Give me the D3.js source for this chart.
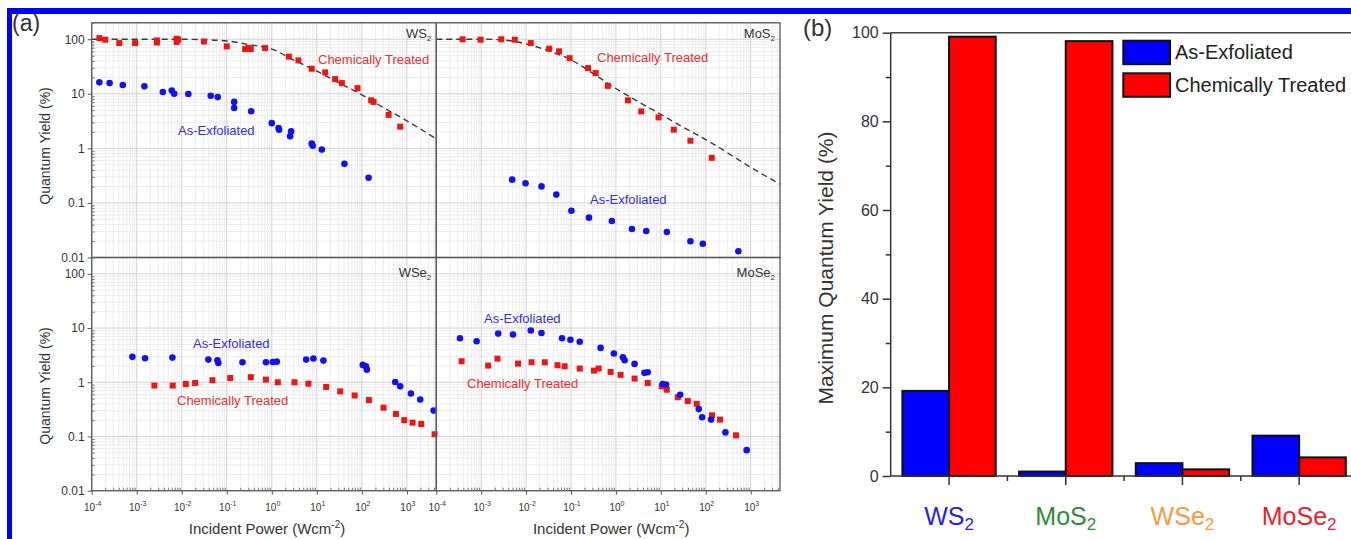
<!DOCTYPE html>
<html><head><meta charset="utf-8">
<script src="https://cdn.jsdelivr.net/npm/d3@7"></script>
<style>
html,body{margin:0;padding:0;background:#fff;overflow:hidden;}
svg{display:block;font-family:"Liberation Sans",Arial,Helvetica,sans-serif;}
</style></head><body>
<svg id="chart" width="1351" height="539"></svg>
<script>
// ---------- DATA (panel a: [incident power W/cm2, quantum yield %]) ----------
const ws2_treated = [[1.48e-4,105],[2.0e-4,98],[4.1e-4,85],[9.2e-4,85],[2.8e-3,87],[2.8e-3,95],[7.7e-3,102],[7.7e-3,89],[8.4e-3,98],[0.031,91],[0.1,74],[0.255,66],[0.303,69],[0.341,66],[0.71,69],[2.39,48],[3.9,41],[7.7,28.8],[15.3,24.7],[25.5,18.6],[36,15.7],[80,12.7],[161,7.6],[182,7.1],[392,4.1],[711,2.5]];
const ws2_exfoliated = [[1.48e-4,16.2],[2.5e-4,15.7],[4.9e-4,14.5],[1.48e-3,13.7],[3.8e-3,10.8],[6.0e-3,11.5],[6.8e-3,10.0],[0.014,9.9],[0.044,9.2],[0.063,8.7],[0.146,7.1],[0.146,5.5],[0.348,4.8],[1.0,2.9],[1.41,2.36],[1.45,2.2],[2.69,2.05],[2.55,1.66],[7.7,1.22],[8.1,1.12],[12.9,0.95],[41,0.52],[141,0.29]];
const ws2_fit = [[1e-4,100],[1e-2,100],[0.03,98],[0.1,93],[0.3,80],[1,66],[3,42],[10,26],[30,16],[100,9.6],[300,5.6],[1000,3.2],[4500,1.49]];

const mos2_treated = [[3.85e-4,100],[9.7e-4,98],[2.8e-3,100],[5.6e-3,98],[0.0127,85],[0.0325,67],[0.054,60],[0.093,45],[0.239,29.6],[0.353,24],[0.66,14],[1.85,7.6],[3.66,4.76],[8.9,3.7],[19.4,2.2],[45.6,1.38],[136,0.67]];
const mos2_exfoliated = [[4.9e-3,0.267],[9.7e-3,0.229],[0.022,0.201],[0.047,0.142],[0.102,0.072],[0.251,0.0537],[0.81,0.0467],[2.27,0.0333],[4.72,0.0306],[13.6,0.0294],[45.6,0.0198],[86,0.0179],[532,0.013]];
const mos2_fit = [[1e-4,100],[1e-3,100],[3e-3,97],[0.01,82],[0.03,62],[0.1,42],[0.3,24],[1,12.5],[3,7.3],[10,4.2],[30,2.5],[100,1.45],[1000,0.45],[4500,0.22]];

const wse2_exfoliated = [[8.0e-4,2.94],[1.53e-3,2.77],[6.2e-3,2.85],[0.039,2.62],[0.062,2.55],[0.065,2.27],[0.223,2.34],[0.74,2.34],[1.05,2.37],[1.29,2.4],[5.8,2.62],[8.4,2.74],[14,2.51],[105,2.09],[123,1.97],[129,1.71],[551,1.01],[711,0.84],[1228,0.62],[1977,0.48],[3917,0.30]];
const wse2_treated = [[2.47e-3,0.87],[6.3e-3,0.87],[0.0123,0.93],[0.0198,0.97],[0.048,1.09],[0.119,1.2],[0.341,1.24],[0.74,1.12],[1.36,1.0],[3.19,1.0],[6.5,0.94],[16.1,0.82],[33,0.68],[69,0.57],[143,0.47],[303,0.34],[570,0.26],[873,0.2],[1337,0.18],[2083,0.17],[4120,0.11]];

const mose2_exfoliated = [[3.36e-4,6.5],[7.9e-4,5.7],[2.39e-3,7.9],[5.1e-3,7.6],[0.0127,9.0],[0.022,8.1],[0.063,6.5],[0.097,6.1],[0.156,5.6],[0.456,4.3],[0.9,3.4],[1.43,2.9],[1.56,2.55],[2.6,2.18],[4.3,1.49],[5.1,1.53],[11,0.93],[13.1,0.91],[27,0.59],[70,0.32],[83,0.226],[131,0.205],[274,0.119],[815,0.056]];
const mose2_treated = [[3.66e-4,2.44],[1.43e-3,2.03],[2.3e-3,2.73],[6.6e-3,2.21],[0.0132,2.34],[0.026,2.34],[0.05,2.06],[0.072,1.97],[0.156,1.79],[0.324,1.64],[0.412,1.79],[0.76,1.55],[1.27,1.37],[2.6,1.17],[5.1,0.97],[10.5,0.84],[13.6,0.73],[23.9,0.53],[39.8,0.45],[63,0.40],[138,0.246],[208,0.205],[472,0.105]];

const xTickExponents = [-4,-3,-2,-1,0,1,2,3];
const yTickValues = [0.01,0.1,1,10,100];
const yTickLabels = ["0.01","0.1","1","10","100"];

// ---------- DATA (panel b) ----------
const materials = ["WS2","MoS2","WSe2","MoSe2"];
const materialBase = ["WS","MoS","WSe","MoSe"];
const materialColors = ["#2323e0","#2e8b3c","#f59a3e","#e8242a"];
const maxQY_exfoliated = [19.2, 1.0, 2.9, 9.1];
const maxQY_treated = [99.1, 98.1, 1.5, 4.2];
const barTicks = [0,20,40,60,80,100];
const barMinorTicks = [10,30,50,70,90];
const seriesNames = ["As-Exfoliated","Chemically Treated"];

// ---------- DRAW ----------
const svg = d3.select("#chart");
const BLUE_M = "#1212ee", RED_M = "#ee1515";
const TXT = "#333";

// blue frame
svg.append("rect").attr("x",7).attr("y",8).attr("width",1344).attr("height",6).attr("fill","#0000ff");
svg.append("rect").attr("x",7).attr("y",8).attr("width",5).attr("height",531).attr("fill","#0000ff");

const xDom = [1e-4, 4500], yDom = [0.01, 200];
const xL = d3.scaleLog().domain(xDom).range([91.7, 436.3]);
const xR = d3.scaleLog().domain(xDom).range([436.3, 780]);
const yT = d3.scaleLog().domain(yDom).range([257.5, 22.8]);
const yBt = d3.scaleLog().domain(yDom).range([490.7, 257.5]);

const minorX = [], majorX = [];
for (let e=-4;e<=3;e++){ majorX.push(Math.pow(10,e)); for(let k=2;k<=9;k++){const v=k*Math.pow(10,e); if(v<=xDom[1]) minorX.push(v);} }
const minorY = [], majorY = [];
for (let e=-2;e<=2;e++){ majorY.push(Math.pow(10,e)); for(let k=2;k<=9;k++){const v=k*Math.pow(10,e); if(v<=yDom[1]) minorY.push(v);} }

const panels = [
  {x:xL, y:yT, name:"WS", exf:ws2_exfoliated, trt:ws2_treated, fit:ws2_fit, nameY:38,
   exfLab:[178,135], trtLab:[318,64], left:true, bottom:false},
  {x:xR, y:yT, name:"MoS", exf:mos2_exfoliated, trt:mos2_treated, fit:mos2_fit, nameY:38,
   exfLab:[590,204], trtLab:[597,62], left:false, bottom:false},
  {x:xL, y:yBt, name:"WSe", exf:wse2_exfoliated, trt:wse2_treated, fit:null, nameY:277,
   exfLab:[193,348], trtLab:[177,405], left:true, bottom:true},
  {x:xR, y:yBt, name:"MoSe", exf:mose2_exfoliated, trt:mose2_treated, fit:null, nameY:277,
   exfLab:[484,323], trtLab:[467,388], left:false, bottom:true}
];

panels.forEach((p,i)=>{
  const [x0,x1] = p.x.range(), [y0,y1] = p.y.range(); // y0 bottom, y1 top
  const g = svg.append("g");
  // grid
  g.selectAll(".gmx").data(minorX).join("line").attr("x1",d=>p.x(d)).attr("x2",d=>p.x(d)).attr("y1",y1).attr("y2",y0).attr("stroke","#ececec").attr("stroke-width",1);
  g.selectAll(".gmy").data(minorY).join("line").attr("y1",d=>p.y(d)).attr("y2",d=>p.y(d)).attr("x1",x0).attr("x2",x1).attr("stroke","#ececec").attr("stroke-width",1);
  g.selectAll(".gMx").data(majorX).join("line").attr("x1",d=>p.x(d)).attr("x2",d=>p.x(d)).attr("y1",y1).attr("y2",y0).attr("stroke","#d2d2d2").attr("stroke-width",1);
  g.selectAll(".gMy").data(majorY).join("line").attr("y1",d=>p.y(d)).attr("y2",d=>p.y(d)).attr("x1",x0).attr("x2",x1).attr("stroke","#d2d2d2").attr("stroke-width",1);

  // fit line
  if (p.fit){
    const line = d3.line().x(d=>p.x(d[0])).y(d=>p.y(d[1])).curve(d3.curveMonotoneX);
    g.append("path").datum(p.fit).attr("d",line).attr("fill","none").attr("stroke","#3a3a3a").attr("stroke-width",1.4).attr("stroke-dasharray","6,4");
  }
  // markers
  g.selectAll(".sq").data(p.trt).join("rect").attr("x",d=>p.x(d[0])-3).attr("y",d=>p.y(d[1])-3).attr("width",6).attr("height",6).attr("fill",RED_M);
  g.selectAll(".ci").data(p.exf).join("circle").attr("cx",d=>p.x(d[0])).attr("cy",d=>p.y(d[1])).attr("r",3.3).attr("fill",BLUE_M);

  // frame
  g.append("rect").attr("x",x0).attr("y",y1).attr("width",x1-x0).attr("height",y0-y1).attr("fill","none").attr("stroke","#555").attr("stroke-width",1.3);

  // material name
  const t = g.append("text").attr("x",x1-5).attr("y",p.nameY).attr("text-anchor","end").attr("font-size",13).attr("fill",TXT);
  t.append("tspan").text(p.name);
  t.append("tspan").attr("font-size",8).attr("dy",3).text("2");

  // annotations
  g.append("text").attr("x",p.exfLab[0]).attr("y",p.exfLab[1]).attr("font-size",13).attr("fill","#3030d8").text(seriesNames[0]);
  g.append("text").attr("x",p.trtLab[0]).attr("y",p.trtLab[1]).attr("font-size",13).attr("fill","#e43232").text(seriesNames[1]);

  // y axis
  if (p.left){
    const ax = g.append("g").attr("transform",`translate(${x0},0)`)
      .call(d3.axisLeft(p.y).tickValues(yTickValues).tickSize(4).tickPadding(3).tickFormat((d,j)=>yTickLabels[j]));
    ax.select(".domain").remove();
    ax.selectAll("line").attr("stroke","#555");
    ax.selectAll("text").attr("font-size",12).attr("fill",TXT).attr("font-family","Liberation Sans, Arial, sans-serif");
    const axm = g.append("g").attr("transform",`translate(${x0},0)`)
      .call(d3.axisLeft(p.y).tickValues(minorY).tickSize(-3).tickFormat(""));
    axm.select(".domain").remove();
    axm.selectAll("line").attr("stroke","#777");
  }
  if (p.bottom){
    const ax = g.append("g").attr("transform",`translate(0,${y0})`)
      .call(d3.axisBottom(p.x).tickValues(majorX).tickSize(4).tickFormat(""));
    ax.select(".domain").remove();
    ax.selectAll("line").attr("stroke","#555");
    const axm = g.append("g").attr("transform",`translate(0,${y0})`)
      .call(d3.axisBottom(p.x).tickValues(minorX).tickSize(-3).tickFormat(""));
    axm.select(".domain").remove();
    axm.selectAll("line").attr("stroke","#777");
    xTickExponents.forEach(e=>{
      const tt = g.append("text").attr("x",p.x(Math.pow(10,e))+1).attr("y",511).attr("text-anchor","middle").attr("font-size",10).attr("fill",TXT);
      tt.append("tspan").text("10");
      tt.append("tspan").attr("font-size",7).attr("dy",-5).text(String(e));
    });
    const xt = g.append("text").attr("x",(x0+x1)/2+3).attr("y",534).attr("text-anchor","middle").attr("font-size",15).attr("fill",TXT);
    xt.append("tspan").text("Incident Power (Wcm");
    xt.append("tspan").attr("font-size",10).attr("dy",-6).text("-2");
    xt.append("tspan").attr("dy",6).text(")");
  }
});

// y titles panel a
[[50,146],[50,386]].forEach(([tx,ty])=>{
  svg.append("text").attr("transform",`translate(${tx},${ty}) rotate(-90)`).attr("text-anchor","middle").attr("font-size",14).attr("fill",TXT).text("Quantum Yield (%)");
});
svg.append("text").attr("x",12).attr("y",31).attr("font-size",23).attr("fill","#333").attr("font-weight",300).text("(a)");

// ---------- PANEL B ----------
const bx0 = 890.7, step = 116.7;
const xBand = d3.scaleBand().domain(materials).range([bx0, bx0 + 4*step]).paddingInner(0.2).paddingOuter(0.1);
const xSub = d3.scaleBand().domain(seriesNames).range([0, xBand.bandwidth()]);
const yBar = d3.scaleLinear().domain([0,100]).range([476, 32.7]);
const gb = svg.append("g");

// bars
const seriesVals = [maxQY_exfoliated, maxQY_treated];
const seriesFill = ["#0000ff","#ff0000"];
seriesVals.forEach((vals,si)=>{
  gb.selectAll(".bar"+si).data(materials).join("rect")
    .attr("x",(m)=>xBand(m)+xSub(seriesNames[si]))
    .attr("y",(m,j)=>yBar(vals[j]))
    .attr("width",xSub.bandwidth())
    .attr("height",(m,j)=>yBar(0)-yBar(vals[j]))
    .attr("fill",seriesFill[si]).attr("stroke","#111").attr("stroke-width",2);
});

// frame lines (top & left & bottom)
gb.append("line").attr("x1",bx0).attr("x2",1351).attr("y1",yBar(100)).attr("y2",yBar(100)).attr("stroke","#444").attr("stroke-width",1.5);
gb.append("line").attr("x1",bx0).attr("x2",1351).attr("y1",yBar(0)).attr("y2",yBar(0)).attr("stroke","#333").attr("stroke-width",1.5);
gb.append("line").attr("x1",bx0).attr("x2",bx0).attr("y1",yBar(100)).attr("y2",yBar(0)).attr("stroke","#333").attr("stroke-width",1.5);

const ayb = gb.append("g").attr("transform",`translate(${bx0},0)`)
  .call(d3.axisLeft(yBar).tickValues(barTicks).tickSize(8).tickPadding(4).tickFormat(d3.format("d")));
ayb.select(".domain").remove();
ayb.selectAll("line").attr("stroke","#333").attr("stroke-width",1.5);
ayb.selectAll("text").attr("font-size",16).attr("fill",TXT).attr("font-family","Liberation Sans, Arial, sans-serif");
const aybm = gb.append("g").attr("transform",`translate(${bx0},0)`)
  .call(d3.axisLeft(yBar).tickValues(barMinorTicks).tickSize(5).tickFormat(""));
aybm.select(".domain").remove();
aybm.selectAll("line").attr("stroke","#333").attr("stroke-width",1.5);

const axb = gb.append("g").attr("transform",`translate(0,${yBar(0)})`)
  .call(d3.axisBottom(xBand).tickSize(9).tickFormat(""));
axb.select(".domain").remove();
axb.selectAll("line").attr("stroke","#333").attr("stroke-width",1.5);
// minor ticks between groups
gb.selectAll(".mt").data(d3.range(1,4)).join("line")
  .attr("x1",i=>xBand.range()[0]+i*xBand.step()).attr("x2",i=>xBand.range()[0]+i*xBand.step())
  .attr("y1",yBar(0)).attr("y2",yBar(0)+5).attr("stroke","#333").attr("stroke-width",1.5);

// category labels
materials.forEach((m,j)=>{
  const t = gb.append("text").attr("x",xBand(m)+xBand.bandwidth()/2).attr("y",525).attr("text-anchor","middle").attr("font-size",25).attr("fill",materialColors[j]);
  t.append("tspan").text(materialBase[j]);
  t.append("tspan").attr("font-size",17).attr("dy",5).text("2");
});

// y title
gb.append("text").attr("transform","translate(833,268) rotate(-90)").attr("text-anchor","middle").attr("font-size",21).attr("fill",TXT).text("Maximum Quantum Yield (%)");

// legend
const legY = [40.7, 73.3];
seriesNames.forEach((s,i)=>{
  gb.append("rect").attr("x",1123.3).attr("y",legY[i]).attr("width",46.7).attr("height",23.5).attr("fill",seriesFill[i]).attr("stroke","#111").attr("stroke-width",2);
  gb.append("text").attr("x",1175).attr("y",legY[i]+18.5).attr("font-size",20).attr("fill","#222").text(s);
});

svg.append("text").attr("x",803).attr("y",36).attr("font-size",24).attr("fill","#333").text("(b)");
</script>
</body></html>
